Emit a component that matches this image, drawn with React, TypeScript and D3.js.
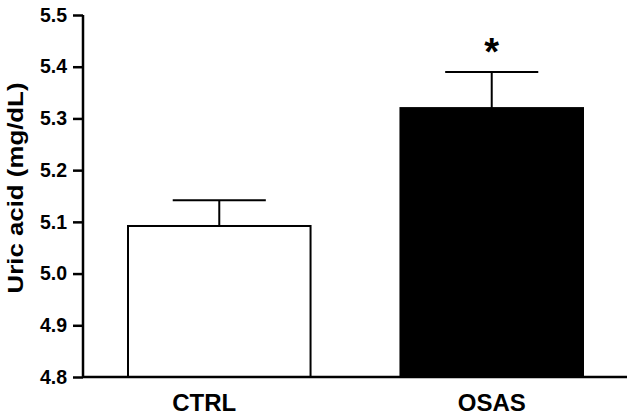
import React, { useRef, useEffect } from 'react';
import * as d3 from 'd3';

const groups = ['CTRL', 'OSAS'];
const means = [5.092, 5.32];
const sems = [0.05, 0.07];
const fills = ['#ffffff', '#000000'];
const yTicks = [4.8, 4.9, 5.0, 5.1, 5.2, 5.3, 5.4, 5.5];
const significant = [false, true];

const W = 633;
const H = 418;

export default function App() {
  const ref = useRef<SVGSVGElement>(null);

  useEffect(() => {
    if (!ref.current) return;
    const svg = d3.select(ref.current);
    svg.selectAll('*').remove();

    const font = '"Liberation Sans", Arial, sans-serif';
    const y = d3.scaleLinear().domain([4.8, 5.5]).range([377, 15]);
    const x = d3.scaleBand<string>().domain(groups).range([128, 583]).paddingInner(0.33).paddingOuter(0);
    const axisLeft = 83;
    const axisRight = 627;

    // bars
    const g = svg.append('g');
    g.selectAll('rect.bar')
      .data(groups)
      .enter()
      .append('rect')
      .attr('class', 'bar')
      .attr('x', (d) => x(d)!)
      .attr('y', (d, i) => y(means[i]))
      .attr('width', x.bandwidth())
      .attr('height', (d, i) => y(4.8) - y(means[i]))
      .attr('fill', (d, i) => fills[i])
      .attr('stroke', '#000')
      .attr('stroke-width', 2);

    // error bars (upper only)
    const capW = x.bandwidth() * 0.51;
    groups.forEach((d, i) => {
      const cx = x(d)! + x.bandwidth() / 2;
      g.append('line')
        .attr('x1', cx).attr('x2', cx)
        .attr('y1', y(means[i])).attr('y2', y(means[i] + sems[i]))
        .attr('stroke', '#000').attr('stroke-width', 2);
      g.append('line')
        .attr('x1', cx - capW / 2).attr('x2', cx + capW / 2)
        .attr('y1', y(means[i] + sems[i])).attr('y2', y(means[i] + sems[i]))
        .attr('stroke', '#000').attr('stroke-width', 2);
      if (significant[i]) {
        g.append('text')
          .attr('x', cx)
          .attr('y', y(means[i] + sems[i]) - 7)
          .attr('text-anchor', 'middle')
          .attr('font-family', font)
          .attr('font-weight', 'bold')
          .attr('font-size', 38)
          .text('*');
      }
    });

    // y axis
    const ya = svg.append('g').attr('transform', `translate(${axisLeft},0)`)
      .call(d3.axisLeft(y).tickValues(yTicks).tickFormat(d3.format('.1f')).tickSize(10).tickPadding(6));
    ya.select('.domain').attr('stroke', '#000').attr('stroke-width', 2.5).attr('d', `M0,${y(5.5)}V${y(4.8)}`);
    ya.selectAll('.tick line').attr('stroke', '#000').attr('stroke-width', 2.5);
    ya.selectAll('.tick text')
      .attr('font-family', font)
      .attr('font-weight', 'bold')
      .attr('font-size', 19.5)
      .attr('fill', '#000');

    // x axis
    const xa = svg.append('g').attr('transform', `translate(0,${y(4.8)})`)
      .call(d3.axisBottom(x).tickSize(0).tickPadding(17));
    xa.select('.domain').attr('stroke', '#000').attr('stroke-width', 2.5).attr('d', `M${axisLeft},0H${axisRight}`);
    xa.selectAll('.tick text')
      .attr('font-family', font)
      .attr('font-weight', 'bold')
      .attr('font-size', 24)
      .attr('fill', '#000')
      .attr('dx', (d: any) => (d === 'CTRL' ? -15 : 0));

    // y title
    svg.append('text')
      .attr('transform', 'translate(23,188) rotate(-90)')
      .attr('text-anchor', 'middle')
      .attr('font-family', font)
      .attr('font-weight', 'bold')
      .attr('font-size', 22)
      .attr('textLength', 211)
      .attr('lengthAdjust', 'spacingAndGlyphs')
      .text('Uric acid (mg/dL)');
  }, []);

  return (
    <svg
      ref={ref}
      width={W}
      height={H}
      style={{ position: 'absolute', left: 0, top: 0, background: '#fff' }}
    />
  );
}
